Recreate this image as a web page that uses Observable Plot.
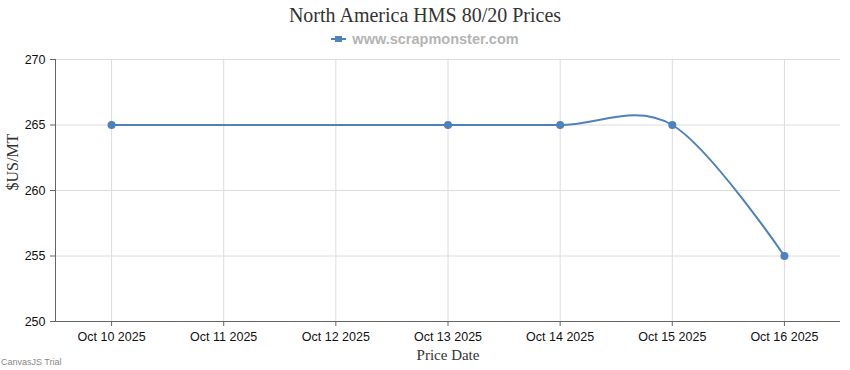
<!DOCTYPE html>
<html><head><meta charset="utf-8">
<script src="https://cdn.jsdelivr.net/npm/d3@7"></script>
<script src="https://cdn.jsdelivr.net/npm/@observablehq/plot@0.6"></script>
<style>
body{margin:0;background:#fff;}
#wrap{position:relative;width:850px;height:370px;overflow:hidden;}
#title{position:absolute;left:0;width:850px;top:4px;text-align:center;font-family:"Liberation Serif",serif;font-size:20px;color:#333;}
#legend{position:absolute;left:0;width:850px;top:31px;text-align:center;font-family:"Liberation Sans",sans-serif;font-weight:bold;font-size:14.5px;color:#b4b4b4;}
#legend svg{vertical-align:middle;margin-right:6px;position:relative;top:-1px;}
#trial{position:absolute;left:1px;top:357px;font-family:"Liberation Sans",sans-serif;font-size:9px;color:#888;}
#chart{position:absolute;left:0;top:0;}
</style></head>
<body><div id="wrap">
<div id="chart"></div>
<div id="title">North America HMS 80/20 Prices</div>
<div id="legend"><svg width="15" height="8"><line x1="0" y1="4" x2="15" y2="4" stroke="#4f81bc" stroke-width="2"/><rect x="4" y="1" width="7" height="6" fill="#4f81bc"/></svg>www.scrapmonster.com</div>
<div id="trial">CanvasJS Trial</div>
</div>
<script>
const dates = ["2025-10-10","2025-10-13","2025-10-14","2025-10-15","2025-10-16"];
const prices = [265, 265, 265, 265, 255];
const yTicks = [250, 255, 260, 265, 270];
const xTicks = ["2025-10-10","2025-10-11","2025-10-12","2025-10-13","2025-10-14","2025-10-15","2025-10-16"];
const title = "North America HMS 80/20 Prices";
const yLabel = "$US/MT";
const xLabel = "Price Date";

const data = dates.map((d,i)=>({date:new Date(d+"T00:00:00Z"), price:prices[i]}));
const xt = xTicks.map(d=>new Date(d+"T00:00:00Z"));
const fmt = d3.utcFormat("%b %d %Y");
const color = "#4f81bc";
const sans = "Liberation Sans, sans-serif";
const serif = "Liberation Serif, serif";

const plot = Plot.plot({
  width: 850, height: 370,
  marginTop: 59, marginBottom: 49, marginLeft: 55, marginRight: 10,
  style: {fontFamily: sans, background: "transparent"},
  x: {type: "utc", domain: [new Date("2025-10-09T12:00:00Z"), new Date("2025-10-16T12:00:00Z")]},
  y: {domain: [250, 270]},
  marks: [
    Plot.gridX(xt, {stroke: "#dcdcdc", strokeOpacity: 1}),
    Plot.gridY(yTicks, {stroke: "#dcdcdc", strokeOpacity: 1}),
    Plot.axisX(xt, {tickFormat: fmt, tickSize: 5, tickPadding: 6, fontSize: 12.5, color: "#111", stroke: "#666", label: null}),
    Plot.axisY(yTicks, {tickSize: 5, tickPadding: 5, fontSize: 12.5, color: "#111", stroke: "#666", label: null}),
    Plot.ruleX([new Date("2025-10-09T12:00:00Z")], {stroke: "#666"}),
    Plot.ruleY([250], {stroke: "#666"}),
    Plot.line(data, {x: "date", y: "price", stroke: color, strokeWidth: 2, curve: "cardinal", tension: 0}),
    Plot.dot(data, {x: "date", y: "price", fill: color, r: 4}),
    Plot.text([yLabel], {frameAnchor: "left", dx: -43, rotate: -90, fontFamily: serif, fontSize: 16, fill: "#333"}),
    Plot.text([xLabel], {frameAnchor: "bottom", lineAnchor: "middle", dy: 34, fontFamily: serif, fontSize: 15, fill: "#333"})
  ]
});
document.getElementById("chart").appendChild(plot);
</script>
</body></html>
